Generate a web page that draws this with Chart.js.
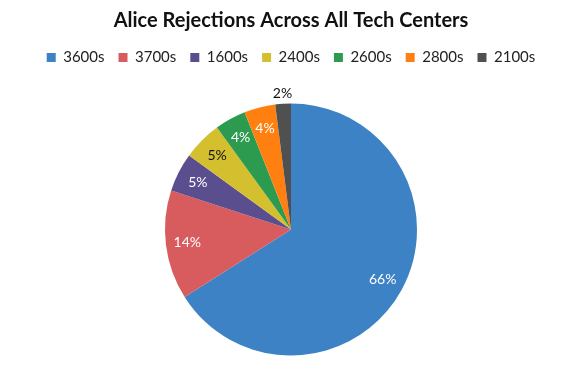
<!DOCTYPE html>
<html>
<head>
<meta charset="utf-8">
<script src="https://cdn.jsdelivr.net/npm/chart.js@4"></script>
<style>
  html, body { margin: 0; padding: 0; background: #fff; }
  #wrap { width: 578px; height: 384px; }
</style>
</head>
<body>
<div id="wrap"><canvas id="chart"></canvas></div>
<script>
const categories = ["3600s", "3700s", "1600s", "2400s", "2600s", "2800s", "2100s"];
const shares = [66, 14, 5, 5, 4, 4, 2];
const sliceColors = ["#3d82c4", "#d85c5e", "#5a4e8e", "#d4bf2f", "#2c9a4f", "#ff8010", "#505050"];
const labelColors = ["#fff", "#fff", "#fff", "#111", "#fff", "#fff", "#111"];
// small slices get their label pushed outside the pie
const labelOutside = [false, false, false, false, false, false, true];

const FONT = "Lato, 'Open Sans', sans-serif";

// draws the percent labels on (or just outside) each slice
const sliceLabels = {
    id: "sliceLabels",
    afterDatasetsDraw(chart){
        const ctx = chart.ctx;
        const meta = chart.getDatasetMeta(0);
        ctx.save();
        ctx.font = "14px " + FONT;
        ctx.textAlign = "center";
        ctx.textBaseline = "middle";
        meta.data.forEach((arc, i) => {
            const p = arc.getProps(["x", "y", "startAngle", "endAngle", "outerRadius"], true);
            const mid = (p.startAngle + p.endAngle) / 2;
            const r = p.outerRadius * (labelOutside[i] ? 1.08 : 0.83);
            ctx.fillStyle = labelColors[i];
            ctx.fillText(shares[i] + "%", p.x + Math.cos(mid) * r, p.y + Math.sin(mid) * r);
        });
        ctx.restore();
    }
};

new Chart(document.getElementById("chart"), {
    type: "pie",
    data: {
        labels: categories,
        datasets: [{
            data: shares,
            backgroundColor: sliceColors,
            borderWidth: 0,
            radius: 126
        }]
    },
    options: {
        responsive: true,
        maintainAspectRatio: false,
        animation: false,
        layout: { padding: { top: 0, bottom: 0, left: 4, right: 0 } },
        plugins: {
            title: {
                display: true,
                text: "Alice Rejections Across All Tech Centers",
                color: "#111",
                font: { family: FONT, size: 20, weight: "bold" },
                padding: { top: 9, bottom: 3 }
            },
            legend: {
                position: "top",
                labels: {
                    color: "#222",
                    boxWidth: 9,
                    boxHeight: 9,
                    padding: 14,
                    font: { family: FONT, size: 15 }
                }
            },
            tooltip: { enabled: false }
        }
    },
    plugins: [sliceLabels]
});
</script>
</body>
</html>
